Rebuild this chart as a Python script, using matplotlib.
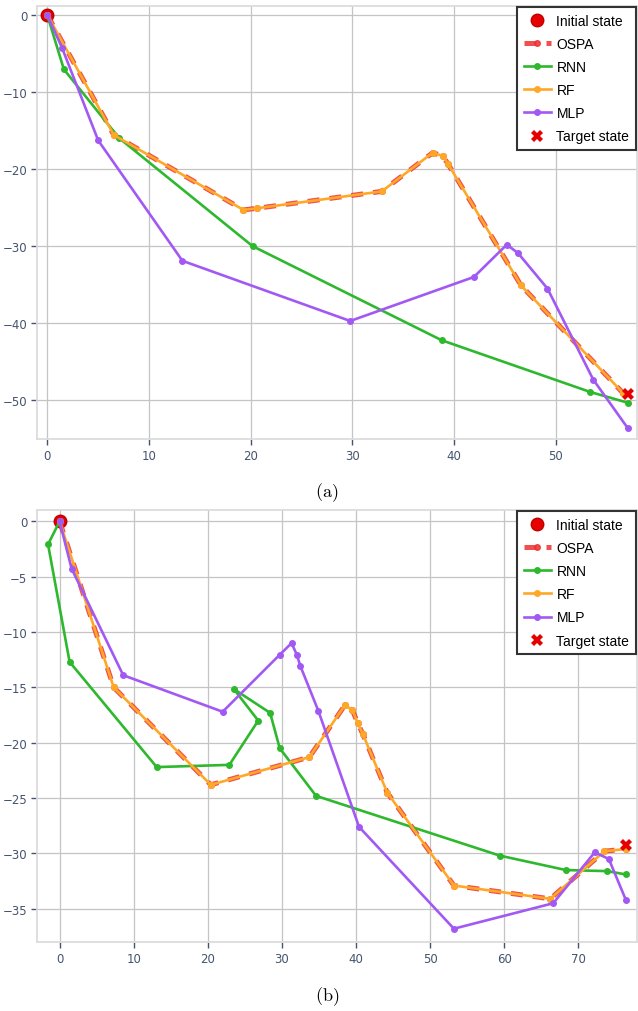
import matplotlib
matplotlib.use("Agg")
import matplotlib.pyplot as plt

# ---- panel (a) trajectories ----
ospa_a_x = [0, 6.56, 19.3, 20.6, 32.9, 37.9, 38.9, 39.4, 46.6, 56.6]
ospa_a_y = [0, -15.6, -25.3, -25.1, -22.9, -17.9, -18.3, -19.3, -35.1, -49.0]
rf_a_x = [0, 6.56, 19.3, 20.6, 32.9, 37.9, 38.9, 39.4, 46.6, 56.6]
rf_a_y = [0, -15.6, -25.3, -25.1, -22.9, -17.9, -18.3, -19.3, -35.1, -49.0]
rnn_a_x = [0, 1.64, 7.08, 20.2, 38.8, 53.4, 57.1]
rnn_a_y = [0, -7.08, -16.0, -30.0, -42.2, -48.9, -50.3]
mlp_a_x = [0, 1.47, 5.02, 13.3, 29.8, 41.96, 45.2, 46.3, 49.2, 53.7, 57.1]
mlp_a_y = [0, -4.32, -16.3, -31.9, -39.7, -34.0, -29.8, -30.9, -35.5, -47.3, -53.6]
target_a = (57.1, -49.2)

# ---- panel (b) trajectories ----
ospa_b_x = [0, 7.3, 20.4, 33.7, 38.5, 39.5, 40.2, 40.9, 44.2, 53.2, 66.2, 73.5, 76.4]
ospa_b_y = [0, -15.0, -23.8, -21.3, -16.6, -17.05, -18.2, -19.2, -24.5, -32.9, -34.1, -29.8, -29.6]
rf_b_x = [0, 7.3, 20.4, 33.7, 38.5, 39.5, 40.2, 40.9, 44.2, 53.2, 66.2, 73.5, 76.4]
rf_b_y = [0, -15.0, -23.8, -21.3, -16.6, -17.05, -18.2, -19.2, -24.5, -32.9, -34.1, -29.8, -29.6]
rnn_b_x = [0, -1.56, 1.35, 13.1, 22.9, 26.8, 23.5, 28.4, 29.7, 34.6, 59.4, 68.3, 73.9, 76.4]
rnn_b_y = [0, -2.08, -12.7, -22.2, -22.0, -18.0, -15.15, -17.3, -20.5, -24.8, -30.2, -31.5, -31.6, -31.9]
mlp_b_x = [0, 1.62, 8.58, 22.0, 29.7, 31.3, 32.0, 32.5, 34.9, 40.4, 53.2, 66.6, 72.2, 74.1, 76.4]
mlp_b_y = [0, -4.28, -13.9, -17.2, -12.05, -11.0, -12.05, -13.1, -17.1, -27.6, -36.8, -34.5, -29.9, -30.5, -34.2]
target_b = (76.4, -29.2)

RED = "#e60000"
OSPA_C = "#ee3030"
GREEN = "#2eb82e"
ORANGE = "#ffa827"
PURPLE = "#a259f4"
TICK_C = "#44546e"


def draw(ax, ospa, rnn, rf, mlp, target, xlim, ylim, xticks, yticks):
    ax.plot([0], [0], "o", color=RED, markersize=9, markeredgecolor="#c00000",
            label="Initial state", zorder=2)
    ax.plot(ospa[0], ospa[1], color=OSPA_C, lw=3.6, ls=(0, (2.4, 2.0)), alpha=0.85,
            marker="o", markersize=4, label="OSPA", zorder=3)
    ax.plot(rnn[0], rnn[1], color=GREEN, lw=1.9, marker="o", markersize=4,
            label="RNN", zorder=3)
    ax.plot(rf[0], rf[1], color=ORANGE, lw=1.9, marker="o", markersize=4,
            label="RF", zorder=4)
    ax.plot(mlp[0], mlp[1], color=PURPLE, lw=1.9, marker="o", markersize=4,
            label="MLP", zorder=5)
    ax.plot([target[0]], [target[1]], "X", color=RED, markersize=9,
            markeredgewidth=0, label="Target state", zorder=6)

    ax.set_xlim(*xlim)
    ax.set_ylim(*ylim)
    ax.set_xticks(xticks)
    ax.set_yticks(yticks)
    ax.grid(True, color="#c4c4c4", lw=0.9)
    ax.set_axisbelow(True)
    for s in ax.spines.values():
        s.set_color("#dcdcdc")
        s.set_linewidth(1.3)
    ax.tick_params(colors=TICK_C, labelsize=8.5, length=4, width=1, pad=3)

    leg = ax.legend(loc="upper right", bbox_to_anchor=(1.0, 1.0), borderaxespad=0.05,
                    fancybox=False, framealpha=1, edgecolor="#333333",
                    prop={"family": "Liberation Sans", "size": 10},
                    handlelength=1.95, handletextpad=0.4, labelspacing=0.66,
                    borderpad=0.5)
    leg.get_frame().set_linewidth(1.5)


plt.rcParams["mathtext.fontset"] = "cm"
fig = plt.figure(figsize=(6.38, 10.12), dpi=100)

ax1 = fig.add_axes([0.058, 0.5652, 0.9404, 0.4279])
draw(ax1, (ospa_a_x, ospa_a_y), (rnn_a_x, rnn_a_y), (rf_a_x, rf_a_y),
     (mlp_a_x, mlp_a_y), target_a, (-1.0, 58.0), (-55.0, 1.13),
     [0, 10, 20, 30, 40, 50], [0, -10, -20, -30, -40, -50])

ax2 = fig.add_axes([0.058, 0.0682, 0.9404, 0.4268])
draw(ax2, (ospa_b_x, ospa_b_y), (rnn_b_x, rnn_b_y), (rf_b_x, rf_b_y),
     (mlp_b_x, mlp_b_y), target_b, (-3.05, 77.9), (-38.0, 1.02),
     [0, 10, 20, 30, 40, 50, 60, 70], [0, -5, -10, -15, -20, -25, -30, -35])

fig.text(327 / 638, 1 - 493 / 1012, r"$\mathrm{(a)}$", ha="center", va="center", fontsize=13)
fig.text(327 / 638, 1 - 997 / 1012, r"$\mathrm{(b)}$", ha="center", va="center", fontsize=13)

fig.savefig("out.png", dpi=100)
